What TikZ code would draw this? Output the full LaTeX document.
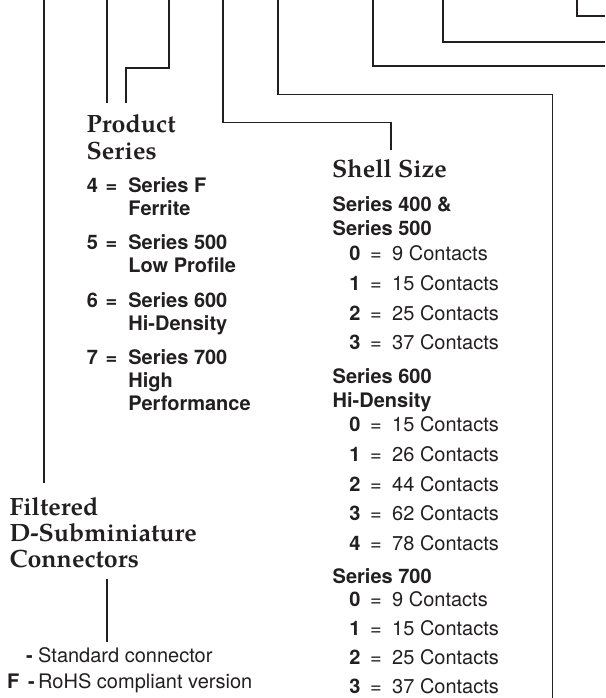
\documentclass[tikz,border=0pt]{standalone}
\usepackage{fontspec}
\setsansfont{TeX Gyre Heros}
\newfontfamily\headfont{texgyrepagella-bold.otf}
\definecolor{ink}{HTML}{231F20}
\newcommand\pnum[2]{\makebox[18.8pt][l]{#1}\makebox[22.7pt][l]{=}#2}
\newcommand\snum[2]{\makebox[20.6pt][l]{\bfseries #1}\makebox[22.2pt][l]{\mdseries =}\mdseries #2}
\begin{document}
\begin{tikzpicture}[x=1pt,y=-1pt,
  lead/.style={draw=ink,line width=1.7pt},
  head/.style={anchor=base west,inner sep=0pt,font=\headfont\fontsize{25}{26}\selectfont,text=ink},
  pitem/.style={anchor=base west,inner sep=0pt,font=\sffamily\bfseries\fontsize{20}{23}\selectfont,text=ink},
  sitem/.style={anchor=base west,inner sep=0pt,text depth=0pt,font=\sffamily\fontsize{20}{23}\selectfont,text=ink},
]
\useasboundingbox (0,0) rectangle (605,698);
% free ends of the leader lines
\coordinate (a0) at (44.3,0);   \coordinate (a1) at (44.3,483);
\coordinate (b0) at (107.3,0);  \coordinate (b1) at (107.3,103);
\coordinate (c0) at (169.3,0);  \coordinate (c1) at (169.3,68.3);
\coordinate (c2) at (125.7,68.3); \coordinate (c3) at (125.7,103);
\coordinate (d0) at (222.7,0);  \coordinate (d1) at (222.7,122.5);
\coordinate (d2) at (391,122.5); \coordinate (d3) at (391,150);
\coordinate (e0) at (278.3,0);  \coordinate (e1) at (278.3,94.5);
\coordinate (e2) at (552.5,94.5); \coordinate (e3) at (552.5,698);
\coordinate (f0) at (373.3,0);  \coordinate (f1) at (373.3,65.7); \coordinate (f2) at (605,65.7);
\coordinate (g0) at (443.3,0);  \coordinate (g1) at (443.3,41.7); \coordinate (g2) at (605,41.7);
\coordinate (h0) at (577.3,0);  \coordinate (h1) at (577.3,16);   \coordinate (h2) at (605,16);
\coordinate (i0) at (107.3,579); \coordinate (i1) at (107.3,641.7);
\draw[lead] (a0) -- (a1);
\draw[lead] (b0) -- (b1);
\draw[lead] (c0) -- (c1) -- (c2) -- (c3);
\draw[lead] (d0) -- (d1) -- (d2) -- (d3);
\draw[lead] (e0) -- (e1) -- (e2) -- (e3);
\draw[lead] (f0) -- (f1) -- (f2);
\draw[lead] (g0) -- (g1) -- (g2);
\draw[lead] (h0) -- (h1) -- (h2);
\draw[lead] (i0) -- (i1);
% Product Series
\node[head] (prodA) at (86.5,132) {Product};
\node[head] (prodB) at (86.5,159) {Series};
\node[pitem] (p4a) at (86.7,192) {\pnum{4}{Series F}};
\node[pitem] (p4b) at (128.2,215) {Ferrite};
\node[pitem] (p5a) at (86.7,249.5) {\pnum{5}{Series 500}};
\node[pitem] (p5b) at (128.2,272.5) {Low Profile};
\node[pitem] (p6a) at (86.7,307) {\pnum{6}{Series 600}};
\node[pitem] (p6b) at (128.2,330) {Hi-Density};
\node[pitem] (p7a) at (86.7,364.5) {\pnum{7}{Series 700}};
\node[pitem] (p7b) at (128.2,387.5) {High};
\node[pitem] (p7c) at (128.2,410.5) {Performance};
% Shell Size
\node[head] (shell) at (332,177.7) {Shell Size};
\node[pitem] (s45a) at (332.5,211.7) {Series 400 \&};
\node[pitem] (s45b) at (332.5,235.5) {Series 500};
\node[sitem] (s4i0) at (349.2,260) {\snum{0}{9 Contacts}};
\node[sitem] (s4i1) at (349.2,290) {\snum{1}{15 Contacts}};
\node[sitem] (s4i2) at (349.2,320) {\snum{2}{25 Contacts}};
\node[sitem] (s4i3) at (349.2,349.5) {\snum{3}{37 Contacts}};
\node[pitem] (s6a) at (332.5,383.3) {Series 600};
\node[pitem] (s6b) at (332.5,407) {Hi-Density};
\node[sitem] (s6i0) at (349.2,431.7) {\snum{0}{15 Contacts}};
\node[sitem] (s6i1) at (349.2,461.5) {\snum{1}{26 Contacts}};
\node[sitem] (s6i2) at (349.2,491) {\snum{2}{44 Contacts}};
\node[sitem] (s6i3) at (349.2,520.7) {\snum{3}{62 Contacts}};
\node[sitem] (s6i4) at (349.2,550.5) {\snum{4}{78 Contacts}};
\node[pitem] (s7a) at (332.5,583) {Series 700};
\node[sitem] (s7i0) at (349.2,606.5) {\snum{0}{9 Contacts}};
\node[sitem] (s7i1) at (349.2,635.5) {\snum{1}{15 Contacts}};
\node[sitem] (s7i2) at (349.2,664.5) {\snum{2}{25 Contacts}};
\node[sitem] (s7i3) at (349.2,693.5) {\snum{3}{37 Contacts}};
% Filtered D-Subminiature Connectors
\node[head] (filtA) at (9.3,515) {Filtered};
\node[head] (filtB) at (9.3,541.7) {D-Subminiature};
\node[head] (filtC) at (9.3,567) {Connectors};
% options
\node[pitem] (o1k) at (26,662.7) {-};
\node[sitem] (o1t) at (38,662.7) {Standard connector};
\node[pitem] (o2k) at (7,688) {F};
\node[pitem] (o2d) at (28,688) {-};
\node[sitem] (o2t) at (38,688) {RoHS compliant version};
\end{tikzpicture}
\end{document}
